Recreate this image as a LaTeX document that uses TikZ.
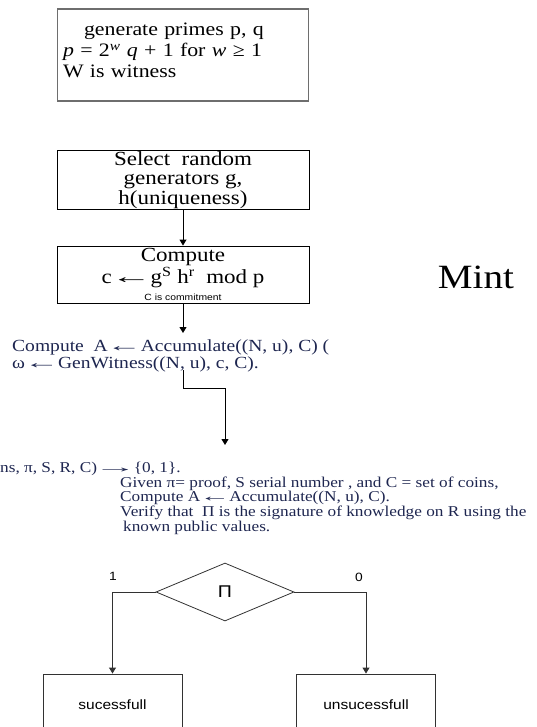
\documentclass[tikz,border=0pt]{standalone}
\usepackage{fontspec}
\setmainfont{Liberation Serif}[FakeStretch=1.15]
\newfontfamily\arialf{Liberation Sans}[FakeStretch=1.15]
\usetikzlibrary{arrows.meta,shapes.geometric,calc}
\definecolor{navy}{RGB}{30,38,80}
\definecolor{greyline}{RGB}{110,110,110}
\definecolor{darkline}{RGB}{50,50,50}
\newcommand{\larr}{\kern-0.35em\scalebox{1.8}[1]{←}\kern-0.35em}
\newcommand{\rarr}{\kern-0.5em\scalebox{2.5}[1]{→}\kern-0.5em}
\begin{document}
\begin{tikzpicture}[x=1pt,y=-1pt,
  boxtxt/.style={font=\fontsize{20}{19.5}\selectfont},
  topbox/.style={draw=greyline,line width=1.6pt,minimum width=251pt,minimum height=92pt,inner sep=4pt,align=left,text width=240pt,font=\fontsize{19}{21}\selectfont},
  stepbox/.style={draw=black,line width=0.9pt,minimum width=252pt,inner sep=1pt,align=center,boxtxt},
  outbox/.style={draw=darkline,line width=0.9pt,minimum width=139pt,minimum height=62pt,font=\arialf\fontsize{13.5}{16}\selectfont},
  arr/.style={-{Triangle[width=7pt,length=6pt]},line width=0.9pt},
  arrb/.style={-{Triangle[width=7pt,length=6pt]},line width=0.9pt,draw=darkline},
  navytxt/.style={text=navy,align=left,inner sep=0pt},
  lbl/.style={font=\arialf\fontsize{12}{12}\selectfont,inner sep=0pt}
]
\useasboundingbox (0,0) rectangle (536,727);
\clip (0,0) rectangle (536,727);

\node[topbox] (gen) at (183,55) {\hspace*{21pt}generate primes p, q\\
{\itshape p} = 2\textsuperscript{\itshape w} {\itshape q} + 1 for {\itshape w} ≥ 1\\
W is witness\\[-12pt]\mbox{}};

\node[stepbox,minimum height=56pt] (sel) at (183,180) {Select\ \ random\\ generators g,\\ h(uniqueness)};

\node[stepbox,minimum height=57pt] (cmp) at (183,274.5) {Compute\\ c \larr{} g\textsuperscript{S} h\textsuperscript{r}\ \ mod p\\[-3pt] {\arialf\fontsize{9}{11}\selectfont C is commitment}};

\node[font=\fontsize{34}{34}\selectfont,inner sep=0pt] (mint) at (476,277) {Mint};

\node[navytxt,anchor=north west,font=\fontsize{17}{14.5}\selectfont] (acc) at (12,340) {Compute\ \ A \larr{} Accumulate((N, u), C) (\\ ω \larr{} GenWitness((N, u), c, C).};

\coordinate (vtop) at (225,445);

\node[navytxt,anchor=north west,font=\fontsize{15}{13.6}\selectfont] (ver) at (0,462) {ns, π, S, R, C) \rarr{} \{0, 1\}.\\
\hspace*{120pt}Given π= proof, S serial number , and C = set of coins,\\
\hspace*{120pt}Compute A \larr{} Accumulate((N, u), C).\\
\hspace*{120pt}Verify that\ \ Π is the signature of knowledge on R using the\\
\hspace*{123pt}known public values.};

\node[diamond,draw=darkline,line width=0.8pt,aspect=2.4,minimum width=138pt,minimum height=58pt,inner sep=0pt,font=\arialf\fontsize{17}{17}\selectfont] (dia) at (225,592) {Π};

\node[outbox] (succ) at (112.5,705) {sucessfull};
\node[outbox] (fail) at (366,705) {unsucessfull};

\node[lbl] (one) at (113,576) {1};
\node[lbl] (zero) at (359,577) {0};

\draw[arr] (sel.south) -- (cmp.north);
\draw[arr] (cmp.south) -- ($(cmp.south |- acc.north)+(0,-7)$);
\draw[arr] ($(acc.south -| cmp.south)+(0,-2)$) -- ++(0,18) -| (vtop);
\draw[arrb] (dia.west) -| (succ.north);
\draw[arrb] (dia.east) -| (fail.north);
\end{tikzpicture}
\end{document}
